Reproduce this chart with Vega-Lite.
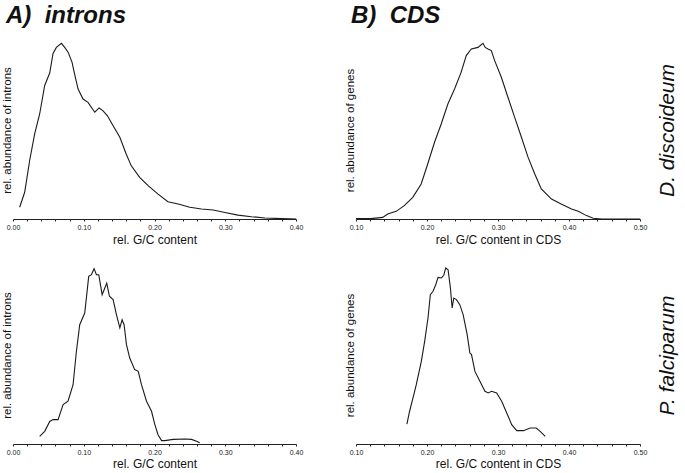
{
  "$schema": "https://vega.github.io/schema/vega-lite/v6.json",
  "padding": {"left": 1, "top": 4, "right": 2, "bottom": 0},
  "config": {
    "font": "Liberation Sans",
    "view": {"stroke": null},
    "axis": {"labelFontSize": 7, "titleFontSize": 12, "titleFontWeight": "normal", "labelColor": "#222", "titleColor": "#111", "domainColor": "#222", "tickColor": "#222", "grid": false},
    "axisY": {"titleFontSize": 11.5},
    "line": {"color": "#1a1a1a", "strokeWidth": 1.1}
  },
  "datasets": {
    "di": [
      {"x":0.0094,"y":0.066},{"x":0.0165,"y":0.15},{"x":0.0236,"y":0.33},{"x":0.0307,"y":0.48},{"x":0.0377,"y":0.59},{"x":0.0448,"y":0.75},{"x":0.0519,"y":0.82},{"x":0.0566,"y":0.93},{"x":0.0613,"y":0.964},{"x":0.0684,"y":0.987},{"x":0.0731,"y":0.964},{"x":0.078,"y":0.936},{"x":0.0835,"y":0.88},{"x":0.087,"y":0.815},{"x":0.092,"y":0.73},{"x":0.099,"y":0.674},{"x":0.106,"y":0.655},{"x":0.1156,"y":0.60},{"x":0.1217,"y":0.624},{"x":0.127,"y":0.609},{"x":0.1335,"y":0.58},{"x":0.1415,"y":0.524},{"x":0.151,"y":0.459},{"x":0.160,"y":0.365},{"x":0.167,"y":0.30},{"x":0.179,"y":0.234},{"x":0.191,"y":0.187},{"x":0.205,"y":0.14},{"x":0.219,"y":0.097},{"x":0.2335,"y":0.084},{"x":0.25,"y":0.066},{"x":0.2665,"y":0.056},{"x":0.283,"y":0.051},{"x":0.2995,"y":0.037},{"x":0.318,"y":0.022},{"x":0.337,"y":0.013},{"x":0.356,"y":0.006},{"x":0.38,"y":0.002},{"x":0.40,"y":0}
    ],
    "dc": [
      {"x":0.10,"y":0.002},{"x":0.121,"y":0.002},{"x":0.1376,"y":0.009},{"x":0.1447,"y":0.028},{"x":0.1565,"y":0.043},{"x":0.168,"y":0.075},{"x":0.18,"y":0.122},{"x":0.1918,"y":0.197},{"x":0.201,"y":0.309},{"x":0.2106,"y":0.431},{"x":0.22,"y":0.534},{"x":0.2294,"y":0.646},{"x":0.2388,"y":0.73},{"x":0.248,"y":0.824},{"x":0.2553,"y":0.918},{"x":0.2624,"y":0.955},{"x":0.2718,"y":0.964},{"x":0.2788,"y":0.987},{"x":0.282,"y":0.964},{"x":0.2859,"y":0.955},{"x":0.2906,"y":0.946},{"x":0.2953,"y":0.89},{"x":0.3047,"y":0.796},{"x":0.314,"y":0.684},{"x":0.3235,"y":0.571},{"x":0.333,"y":0.459},{"x":0.3424,"y":0.346},{"x":0.3518,"y":0.253},{"x":0.361,"y":0.169},{"x":0.3753,"y":0.112},{"x":0.389,"y":0.084},{"x":0.4035,"y":0.056},{"x":0.413,"y":0.043},{"x":0.4247,"y":0.019},{"x":0.434,"y":0.004},{"x":0.446,"y":0},{"x":0.50,"y":0}
    ],
    "pi": [
      {"x":0.0377,"y":0.043},{"x":0.0448,"y":0.071},{"x":0.0519,"y":0.127},{"x":0.0566,"y":0.137},{"x":0.0637,"y":0.137},{"x":0.0708,"y":0.221},{"x":0.0778,"y":0.24},{"x":0.0849,"y":0.333},{"x":0.0896,"y":0.52},{"x":0.0943,"y":0.67},{"x":0.1014,"y":0.736},{"x":0.107,"y":0.942},{"x":0.1108,"y":0.951},{"x":0.1146,"y":0.985},{"x":0.1179,"y":0.951},{"x":0.1212,"y":0.951},{"x":0.126,"y":0.839},{"x":0.1288,"y":0.867},{"x":0.1325,"y":0.904},{"x":0.1363,"y":0.83},{"x":0.1415,"y":0.811},{"x":0.1462,"y":0.727},{"x":0.151,"y":0.652},{"x":0.1542,"y":0.698},{"x":0.157,"y":0.67},{"x":0.1604,"y":0.558},{"x":0.165,"y":0.483},{"x":0.172,"y":0.418},{"x":0.177,"y":0.408},{"x":0.1816,"y":0.333},{"x":0.1887,"y":0.24},{"x":0.1958,"y":0.184},{"x":0.2005,"y":0.109},{"x":0.205,"y":0.052},{"x":0.21,"y":0.019},{"x":0.2146,"y":0.019},{"x":0.2264,"y":0.026},{"x":0.243,"y":0.028},{"x":0.2524,"y":0.026},{"x":0.2594,"y":0.015},{"x":0.264,"y":0.007}
    ],
    "pc": [
      {"x":0.1717,"y":0.112},{"x":0.1755,"y":0.184},{"x":0.1802,"y":0.258},{"x":0.1849,"y":0.333},{"x":0.192,"y":0.464},{"x":0.1967,"y":0.577},{"x":0.2014,"y":0.708},{"x":0.2047,"y":0.839},{"x":0.2085,"y":0.858},{"x":0.2123,"y":0.895},{"x":0.2156,"y":0.936},{"x":0.2203,"y":0.933},{"x":0.2236,"y":0.948},{"x":0.2264,"y":0.989},{"x":0.2297,"y":0.979},{"x":0.233,"y":0.876},{"x":0.2354,"y":0.764},{"x":0.2377,"y":0.82},{"x":0.2415,"y":0.811},{"x":0.2462,"y":0.783},{"x":0.2509,"y":0.727},{"x":0.2566,"y":0.614},{"x":0.2604,"y":0.511},{"x":0.2627,"y":0.502},{"x":0.2675,"y":0.408},{"x":0.2745,"y":0.352},{"x":0.2816,"y":0.296},{"x":0.2863,"y":0.287},{"x":0.291,"y":0.296},{"x":0.2981,"y":0.287},{"x":0.3052,"y":0.24},{"x":0.3123,"y":0.174},{"x":0.3193,"y":0.109},{"x":0.3264,"y":0.075},{"x":0.3358,"y":0.075},{"x":0.3453,"y":0.09},{"x":0.3538,"y":0.09},{"x":0.3594,"y":0.071},{"x":0.3665,"y":0.043}
    ]
  },
  "spacing": 20,
  "vconcat": [
    {
      "spacing": 41,
      "hconcat": [
        {
          "width": 283, "height": 178,
          "data": {"name": "di"},
          "title": {"text": "A)\u00a0 introns", "anchor": "start", "frame": "group", "fontSize": 24, "fontWeight": "bold", "fontStyle": "italic", "dx": -7, "offset": 13, "color": "#111"},
          "mark": "line",
          "encoding": {
            "x": {"field": "x", "type": "quantitative", "scale": {"domain": [0, 0.4], "nice": false, "zero": false},
              "axis": {"title": "rel. G/C content", "values": [0,0.02,0.04,0.06,0.08,0.1,0.12,0.14,0.16,0.18,0.2,0.22,0.24,0.26,0.28,0.3,0.32,0.34,0.36,0.38,0.4], "labelExpr": "round(datum.value*100) % 10 === 0 ? format(datum.value, '.2f') : ''", "tickSize": 2, "labelPadding": 2, "titlePadding": 4, "labelOverlap": false, "labelFlush": false}},
            "y": {"field": "y", "type": "quantitative", "scale": {"domain": [0, 1], "nice": false},
              "axis": {"title": "rel. abundance of introns", "labels": false, "ticks": false, "domain": false, "titlePadding": 1}}
          }
        },
        {
          "width": 284, "height": 178,
          "data": {"name": "dc"},
          "title": {"text": "B)\u00a0 CDS", "anchor": "start", "frame": "group", "fontSize": 24, "fontWeight": "bold", "fontStyle": "italic", "dx": -5, "offset": 13, "color": "#111"},
          "layer": [
            {
              "mark": "line",
              "encoding": {
                "x": {"field": "x", "type": "quantitative", "scale": {"domain": [0.1, 0.5], "nice": false, "zero": false},
                  "axis": {"title": "rel. G/C content in CDS", "values": [0.1,0.12,0.14,0.16,0.18,0.2,0.22,0.24,0.26,0.28,0.3,0.32,0.34,0.36,0.38,0.4,0.42,0.44,0.46,0.48,0.5], "labelExpr": "round(datum.value*100) % 10 === 0 ? format(datum.value, '.2f') : ''", "tickSize": 2, "labelPadding": 2, "titlePadding": 4, "labelOverlap": false, "labelFlush": false}},
                "y": {"field": "y", "type": "quantitative", "scale": {"domain": [0, 1], "nice": false},
                  "axis": {"title": "rel. abundance of genes", "labels": false, "ticks": false, "domain": false, "titlePadding": 1}}
              }
            },
            {
              "mark": {"type": "line", "opacity": 0},
              "encoding": {
                "x": {"field": "x", "type": "quantitative", "scale": {"domain": [0.1, 0.5], "nice": false, "zero": false},
                  "axis": {"title": "rel. G/C content in CDS", "values": [0.1,0.12,0.14,0.16,0.18,0.2,0.22,0.24,0.26,0.28,0.3,0.32,0.34,0.36,0.38,0.4,0.42,0.44,0.46,0.48,0.5], "labelExpr": "round(datum.value*100) % 10 === 0 ? format(datum.value, '.2f') : ''", "tickSize": 2, "labelPadding": 2, "titlePadding": 4, "labelOverlap": false, "labelFlush": false}},
                "y": {"field": "y", "type": "quantitative", "scale": {"domain": [0, 1], "nice": false},
                  "axis": {"orient": "right", "title": "D. discoideum", "labels": false, "ticks": false, "domain": false, "titleAngle": 270, "titleBaseline": "top", "titleFontSize": 21, "titleFontStyle": "italic", "titlePadding": 16}}
              }
            }
          ],
          "resolve": {"scale": {"y": "independent"}}
        }
      ]
    },
    {
      "spacing": 41,
      "hconcat": [
        {
          "width": 283, "height": 178,
          "data": {"name": "pi"},
          "mark": "line",
          "encoding": {
            "x": {"field": "x", "type": "quantitative", "scale": {"domain": [0, 0.4], "nice": false, "zero": false},
              "axis": {"title": "rel. G/C content", "values": [0,0.02,0.04,0.06,0.08,0.1,0.12,0.14,0.16,0.18,0.2,0.22,0.24,0.26,0.28,0.3,0.32,0.34,0.36,0.38,0.4], "labelExpr": "round(datum.value*100) % 10 === 0 ? format(datum.value, '.2f') : ''", "tickSize": 2, "labelPadding": 2, "titlePadding": 3, "labelOverlap": false, "labelFlush": false}},
            "y": {"field": "y", "type": "quantitative", "scale": {"domain": [0, 1], "nice": false},
              "axis": {"title": "rel. abundance of introns", "labels": false, "ticks": false, "domain": false, "titlePadding": 1}}
          }
        },
        {
          "width": 284, "height": 178,
          "data": {"name": "pc"},
          "layer": [
            {
              "mark": "line",
              "encoding": {
                "x": {"field": "x", "type": "quantitative", "scale": {"domain": [0.1, 0.5], "nice": false, "zero": false},
                  "axis": {"title": "rel. G/C content in CDS", "values": [0.1,0.12,0.14,0.16,0.18,0.2,0.22,0.24,0.26,0.28,0.3,0.32,0.34,0.36,0.38,0.4,0.42,0.44,0.46,0.48,0.5], "labelExpr": "round(datum.value*100) % 10 === 0 ? format(datum.value, '.2f') : ''", "tickSize": 2, "labelPadding": 2, "titlePadding": 3, "labelOverlap": false, "labelFlush": false}},
                "y": {"field": "y", "type": "quantitative", "scale": {"domain": [0, 1], "nice": false},
                  "axis": {"title": "rel. abundance of genes", "labels": false, "ticks": false, "domain": false, "titlePadding": 1}}
              }
            },
            {
              "mark": {"type": "line", "opacity": 0},
              "encoding": {
                "x": {"field": "x", "type": "quantitative", "scale": {"domain": [0.1, 0.5], "nice": false, "zero": false},
                  "axis": {"title": "rel. G/C content in CDS", "values": [0.1,0.12,0.14,0.16,0.18,0.2,0.22,0.24,0.26,0.28,0.3,0.32,0.34,0.36,0.38,0.4,0.42,0.44,0.46,0.48,0.5], "labelExpr": "round(datum.value*100) % 10 === 0 ? format(datum.value, '.2f') : ''", "tickSize": 2, "labelPadding": 2, "titlePadding": 3, "labelOverlap": false, "labelFlush": false}},
                "y": {"field": "y", "type": "quantitative", "scale": {"domain": [0, 1], "nice": false},
                  "axis": {"orient": "right", "title": "P. falciparum", "labels": false, "ticks": false, "domain": false, "titleAngle": 270, "titleBaseline": "top", "titleFontSize": 21, "titleFontStyle": "italic", "titlePadding": 16}}
              }
            }
          ],
          "resolve": {"scale": {"y": "independent"}}
        }
      ]
    }
  ]
}
